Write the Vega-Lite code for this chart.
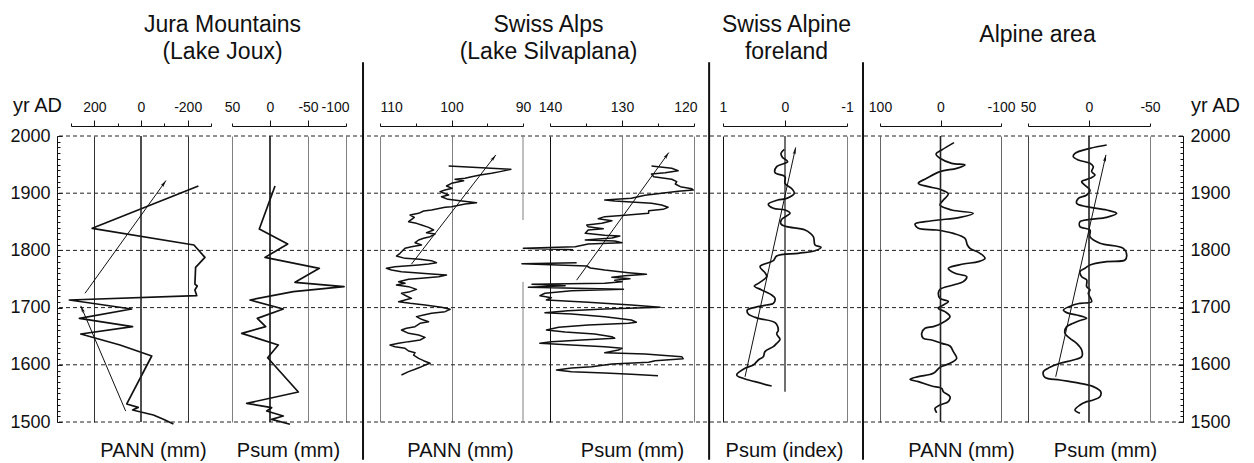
{
  "$schema": "https://vega.github.io/schema/vega-lite/v6.json",
  "width": 1126,
  "height": 286,
  "autosize": {"type": "none"},
  "padding": {"left": 57, "top": 136, "right": 71, "bottom": 41},
  "background": "white",
  "config": {
    "view": {"stroke": null},
    "font": "Liberation Sans",
    "mark": {"invalid": "break-paths-show-domains"},
    "axis": {
      "labelFont": "Liberation Sans",
      "titleFont": "Liberation Sans",
      "labelColor": "#111",
      "titleColor": "#111",
      "domainColor": "#111",
      "tickColor": "#111",
      "titleFontWeight": "normal",
      "labelFontWeight": "normal"
    }
  },
  "datasets": {
    "centuries": [{"year": 1500}, {"year": 1600}, {"year": 1700}, {"year": 1800}, {"year": 1900}, {"year": 2000}],
    "jura_pann": [
      {"year": 1912.6, "v": -246}, {"year": 1838.6, "v": 209}, {"year": 1809.4, "v": -227}, {"year": 1787.8, "v": -274},
      {"year": 1770.3, "v": -234}, {"year": 1741, "v": -231}, {"year": 1737.8, "v": -241}, {"year": 1730.8, "v": -231},
      {"year": 1720.9, "v": -239}, {"year": 1713.3, "v": 307}, {"year": 1697.6, "v": 40}, {"year": 1681.2, "v": 264},
      {"year": 1666.7, "v": 36}, {"year": 1653.8, "v": 258}, {"year": 1634.6, "v": 90}, {"year": 1615.4, "v": -46},
      {"year": 1531.5, "v": 61}, {"year": 1525.6, "v": 12}, {"year": 1521, "v": 36}, {"year": 1512.2, "v": -53},
      {"year": 1504.7, "v": -96}, {"year": 1496.5, "v": -139}
    ],
    "jura_psum": [
      {"year": 1912.6, "v": -6.6}, {"year": 1837.4, "v": 14.1}, {"year": 1811.2, "v": -23.3}, {"year": 1787.8, "v": 6.6},
      {"year": 1768.7, "v": -64.9}, {"year": 1744.2, "v": -32.9}, {"year": 1736.6, "v": -97.4}, {"year": 1727.8, "v": -30.7},
      {"year": 1713.3, "v": 26.3}, {"year": 1697.6, "v": -17.5}, {"year": 1681.2, "v": 16.7}, {"year": 1666.7, "v": 5.7},
      {"year": 1655, "v": 37.2}, {"year": 1634.6, "v": -10.9}, {"year": 1612.4, "v": 3.1}, {"year": 1552.4, "v": -37.3},
      {"year": 1532.6, "v": 30.7}, {"year": 1525, "v": -2.2}, {"year": 1519.2, "v": 4.4}, {"year": 1510.5, "v": -17.5},
      {"year": 1504.7, "v": -2.2}, {"year": 1496, "v": -26.3}
    ],
    "silva_pann": [
      {"year": 1947.6, "v": 100.4}, {"year": 1941.7, "v": 91.7}, {"year": 1937.7, "v": 93.2}, {"year": 1934.7, "v": 94.4},
      {"year": 1931.8, "v": 96.0}, {"year": 1928.9, "v": 97.2}, {"year": 1926.0, "v": 98.1}, {"year": 1924.3, "v": 99.5},
      {"year": 1921.9, "v": 98.3}, {"year": 1917.3, "v": 100.0}, {"year": 1912.6, "v": 100.7}, {"year": 1908.5, "v": 99.9},
      {"year": 1905.6, "v": 100.9}, {"year": 1902.7, "v": 101.6}, {"year": 1896.9, "v": 100.4}, {"year": 1893.9, "v": 101.4},
      {"year": 1889.3, "v": 100.5}, {"year": 1887.0, "v": 98.8}, {"year": 1883.5, "v": 96.5}, {"year": 1881.1, "v": 98.1},
      {"year": 1876.5, "v": 100.0}, {"year": 1875.3, "v": 100.9}, {"year": 1870.6, "v": 102.8}, {"year": 1868.9, "v": 103.9},
      {"year": 1864.8, "v": 104.6}, {"year": 1861.9, "v": 105.8}, {"year": 1857.8, "v": 105.2}, {"year": 1850.2, "v": 106.0},
      {"year": 1847.3, "v": 104.9}, {"year": 1844.4, "v": 104.2}, {"year": 1840.3, "v": 103.2}, {"year": 1835.7, "v": 102.5},
      {"year": 1831.0, "v": 103.5}, {"year": 1828.7, "v": 102.3}, {"year": 1824.0, "v": 103.0}, {"year": 1821.1, "v": 103.9},
      {"year": 1818.2, "v": 104.6}, {"year": 1813.5, "v": 105.1}, {"year": 1809.5, "v": 104.2}, {"year": 1806.5, "v": 105.6},
      {"year": 1803.6, "v": 106.5}, {"year": 1794.9, "v": 107.2}, {"year": 1790.2, "v": 107.7}, {"year": 1786.1, "v": 106.5},
      {"year": 1784.4, "v": 104.4}, {"year": 1782.1, "v": 102.8}, {"year": 1778.6, "v": 102.1}, {"year": 1776.2, "v": 103.2},
      {"year": 1774.5, "v": 104.6}, {"year": 1772.7, "v": 106.5}, {"year": 1771.6, "v": 107.9}, {"year": 1768.7, "v": 109.1},
      {"year": 1765.7, "v": 108.4}, {"year": 1762.8, "v": 107.0}, {"year": 1761.1, "v": 105.1}, {"year": 1758.8, "v": 102.8},
      {"year": 1757.0, "v": 100.7}, {"year": 1754.1, "v": 101.8}, {"year": 1751.2, "v": 104.2}, {"year": 1749.4, "v": 106.0},
      {"year": 1745.3, "v": 107.4}, {"year": 1742.4, "v": 106.5}, {"year": 1739.5, "v": 107.7}, {"year": 1736.6, "v": 106.0},
      {"year": 1731.9, "v": 104.9}, {"year": 1727.9, "v": 105.8}, {"year": 1725.0, "v": 107.0}, {"year": 1720.3, "v": 106.3},
      {"year": 1716.2, "v": 105.6}, {"year": 1713.3, "v": 106.5}, {"year": 1710.4, "v": 107.4}, {"year": 1707.5, "v": 105.8},
      {"year": 1704.6, "v": 103.7}, {"year": 1700.5, "v": 101.4}, {"year": 1697.0, "v": 100.2}, {"year": 1692.9, "v": 100.9},
      {"year": 1690.0, "v": 102.8}, {"year": 1687.1, "v": 103.9}, {"year": 1684.2, "v": 104.9}, {"year": 1679.5, "v": 104.2},
      {"year": 1675.4, "v": 103.2}, {"year": 1672.5, "v": 104.4}, {"year": 1666.7, "v": 105.1}, {"year": 1663.8, "v": 106.3},
      {"year": 1660.8, "v": 107.0}, {"year": 1655.0, "v": 106.0}, {"year": 1652.1, "v": 104.6}, {"year": 1648.0, "v": 103.7},
      {"year": 1643.4, "v": 104.4}, {"year": 1640.5, "v": 106.0}, {"year": 1637.5, "v": 107.4}, {"year": 1634.6, "v": 108.6},
      {"year": 1631.7, "v": 107.9}, {"year": 1628.8, "v": 106.5}, {"year": 1624.1, "v": 106.0}, {"year": 1621.2, "v": 105.1},
      {"year": 1617.1, "v": 105.3}, {"year": 1611.3, "v": 104.6}, {"year": 1607.2, "v": 103.9}, {"year": 1602.6, "v": 103.0},
      {"year": 1599.7, "v": 103.7}, {"year": 1595.6, "v": 104.4}, {"year": 1592.1, "v": 105.1}, {"year": 1588.0, "v": 106.0},
      {"year": 1582.2, "v": 107.0}
    ],
    "silva_psum": [
      {"year": 1947.6, "v": 125.9}, {"year": 1943.5, "v": 123.1}, {"year": 1939.4, "v": 122.2}, {"year": 1935.9, "v": 124.0},
      {"year": 1933.6, "v": 125.9}, {"year": 1928.9, "v": 125.6}, {"year": 1924.3, "v": 123.1}, {"year": 1920.2, "v": 122.4},
      {"year": 1916.1, "v": 122.6}, {"year": 1911.4, "v": 121.9}, {"year": 1907.9, "v": 120.3}, {"year": 1905.6, "v": 120.1},
      {"year": 1903.3, "v": 122.2}, {"year": 1899.8, "v": 124.5}, {"year": 1896.3, "v": 126.8}, {"year": 1891.0, "v": 128.7},
      {"year": 1888.1, "v": 132.4}, {"year": 1886.4, "v": 131.0}, {"year": 1882.3, "v": 125.9}, {"year": 1879.4, "v": 124.5},
      {"year": 1875.3, "v": 123.6}, {"year": 1871.8, "v": 124.3}, {"year": 1869.5, "v": 126.3}, {"year": 1864.8, "v": 126.3},
      {"year": 1861.3, "v": 129.6}, {"year": 1859.0, "v": 132.4}, {"year": 1855.5, "v": 133.3}, {"year": 1852.0, "v": 131.4},
      {"year": 1847.3, "v": 132.8}, {"year": 1844.4, "v": 134.9}, {"year": 1841.5, "v": 134.7}, {"year": 1838.0, "v": 132.6},
      {"year": 1835.7, "v": 134.7}, {"year": 1829.8, "v": 135.1}, {"year": 1826.4, "v": 132.4}, {"year": 1825.2, "v": 130.3},
      {"year": 1821.7, "v": 131.4}, {"year": 1818.2, "v": 135.1}, {"year": 1816.4, "v": 131.0}, {"year": 1813.5, "v": 130.0},
      {"year": 1811.2, "v": 134.7}, {"year": 1806.5, "v": 136.5}, {"year": 1803.6, "v": 143.7}, {"year": 1801.3, "v": 136.8},
      {"year": 1790.0, "v": null},
      {"year": 1778.6, "v": 136.3}, {"year": 1776.8, "v": 143.9}, {"year": 1772.7, "v": 134.9}, {"year": 1769.2, "v": 134.4},
      {"year": 1765.7, "v": 132.4}, {"year": 1761.1, "v": 129.1}, {"year": 1758.2, "v": 126.6}, {"year": 1755.8, "v": 129.6},
      {"year": 1752.9, "v": 131.4}, {"year": 1750.6, "v": 128.9}, {"year": 1747.7, "v": 131.0}, {"year": 1745.3, "v": 130.0},
      {"year": 1742.4, "v": 132.4}, {"year": 1740.7, "v": 142.5}, {"year": 1738.4, "v": 137.9}, {"year": 1735.4, "v": 143.0},
      {"year": 1731.9, "v": 129.8}, {"year": 1729.6, "v": 137.0}, {"year": 1725.0, "v": 140.7}, {"year": 1720.9, "v": 141.4},
      {"year": 1717.4, "v": 139.8}, {"year": 1713.3, "v": 140.5}, {"year": 1709.2, "v": 134.7}, {"year": 1704.6, "v": 128.7},
      {"year": 1700.5, "v": 124.7}, {"year": 1697.6, "v": 132.4}, {"year": 1694.7, "v": 137.5}, {"year": 1691.2, "v": 140.7},
      {"year": 1688.8, "v": 137.0}, {"year": 1684.2, "v": 132.4}, {"year": 1678.3, "v": 128.7}, {"year": 1674.3, "v": 128.0},
      {"year": 1672.5, "v": 129.1}, {"year": 1669.6, "v": 134.7}, {"year": 1665.5, "v": 138.8}, {"year": 1660.8, "v": 140.5},
      {"year": 1657.4, "v": 137.9}, {"year": 1653.9, "v": 133.8}, {"year": 1649.2, "v": 131.4}, {"year": 1646.3, "v": 131.0},
      {"year": 1643.4, "v": 135.6}, {"year": 1640.5, "v": 139.8}, {"year": 1637.5, "v": 141.4}, {"year": 1634.6, "v": 137.0},
      {"year": 1631.7, "v": 132.4}, {"year": 1628.8, "v": 130.0}, {"year": 1625.9, "v": 130.5}, {"year": 1621.2, "v": 132.4},
      {"year": 1618.9, "v": 126.8}, {"year": 1614.2, "v": 121.7}, {"year": 1610.7, "v": 121.5}, {"year": 1607.2, "v": 125.4},
      {"year": 1604.3, "v": 126.3}, {"year": 1601.4, "v": 131.4}, {"year": 1596.7, "v": 134.2}, {"year": 1594.4, "v": 137.0},
      {"year": 1590.9, "v": 139.1}, {"year": 1588.0, "v": 137.0}, {"year": 1585.7, "v": 132.4}, {"year": 1583.4, "v": 128.7},
      {"year": 1581.0, "v": 125.0}
    ],
    "foreland_psum": [
      {"year": 1976.7, "v": 0.011}, {"year": 1969.7, "v": 0.065}, {"year": 1962.7, "v": 0.043}, {"year": 1955.1, "v": -0.043},
      {"year": 1946.4, "v": 0.134}, {"year": 1935.9, "v": 0.161}, {"year": 1928.9, "v": 0.0}, {"year": 1917.3, "v": 0.0},
      {"year": 1906.8, "v": -0.118}, {"year": 1899.8, "v": -0.151}, {"year": 1891.0, "v": -0.027}, {"year": 1888.1, "v": 0.118},
      {"year": 1881.1, "v": 0.269}, {"year": 1873.6, "v": 0.188}, {"year": 1870.6, "v": 0.0}, {"year": 1864.8, "v": -0.081},
      {"year": 1854.3, "v": 0.054}, {"year": 1846.2, "v": 0.065}, {"year": 1841.5, "v": -0.027}, {"year": 1835.7, "v": -0.323},
      {"year": 1824.0, "v": -0.457}, {"year": 1809.5, "v": -0.484}, {"year": 1805.4, "v": -0.581}, {"year": 1799.5, "v": -0.484},
      {"year": 1794.9, "v": -0.215}, {"year": 1790.2, "v": 0.134}, {"year": 1782.1, "v": 0.188}, {"year": 1771.6, "v": 0.403},
      {"year": 1761.1, "v": 0.323}, {"year": 1754.1, "v": 0.296}, {"year": 1742.4, "v": 0.43}, {"year": 1737.8, "v": 0.495},
      {"year": 1730.8, "v": 0.376}, {"year": 1722.0, "v": 0.215}, {"year": 1716.2, "v": 0.161}, {"year": 1707.5, "v": 0.188},
      {"year": 1704.6, "v": 0.296}, {"year": 1700.5, "v": 0.484}, {"year": 1695.8, "v": 0.607}, {"year": 1688.8, "v": 0.591},
      {"year": 1681.2, "v": 0.43}, {"year": 1673.7, "v": 0.161}, {"year": 1660.8, "v": 0.108}, {"year": 1653.9, "v": 0.134},
      {"year": 1644.5, "v": 0.081}, {"year": 1637.5, "v": 0.134}, {"year": 1631.7, "v": 0.188}, {"year": 1623.0, "v": 0.323},
      {"year": 1614.2, "v": 0.35}, {"year": 1608.4, "v": 0.43}, {"year": 1599.7, "v": 0.511}, {"year": 1593.8, "v": 0.645},
      {"year": 1582.2, "v": 0.78}, {"year": 1578.1, "v": 0.726}, {"year": 1570.5, "v": 0.484}, {"year": 1562.9, "v": 0.215}
    ],
    "alpine_pann": [
      {"year": 1988.4, "v": -22.3}, {"year": 1975.5, "v": -1.9}, {"year": 1968.5, "v": 7.4}, {"year": 1961.0, "v": 0.8},
      {"year": 1952.2, "v": -18.5}, {"year": 1949.3, "v": -40.5}, {"year": 1943.5, "v": -26.7}, {"year": 1937.7, "v": 0.8},
      {"year": 1926.0, "v": 22.9}, {"year": 1917.3, "v": 36.6}, {"year": 1911.4, "v": 20.1}, {"year": 1906.8, "v": 0.8},
      {"year": 1898.6, "v": -12.9}, {"year": 1888.1, "v": -4.7}, {"year": 1879.4, "v": 0.8}, {"year": 1870.6, "v": -18.5},
      {"year": 1864.8, "v": -54.3}, {"year": 1857.8, "v": -32.2}, {"year": 1853.2, "v": 3.6}, {"year": 1850.2, "v": 25.6},
      {"year": 1846.2, "v": 42.1}, {"year": 1838.6, "v": 36.6}, {"year": 1835.7, "v": 6.3}, {"year": 1829.8, "v": -21.2},
      {"year": 1821.1, "v": -40.5}, {"year": 1809.5, "v": -44.4}, {"year": 1803.6, "v": -48.8}, {"year": 1794.9, "v": -65.3},
      {"year": 1786.1, "v": -73.6}, {"year": 1780.3, "v": -62.5}, {"year": 1776.2, "v": -37.7}, {"year": 1768.7, "v": -12.9},
      {"year": 1759.9, "v": -24.0}, {"year": 1754.1, "v": -43.3}, {"year": 1745.3, "v": -37.7}, {"year": 1739.5, "v": -21.2},
      {"year": 1731.9, "v": 0.8}, {"year": 1725.0, "v": 3.6}, {"year": 1716.2, "v": 0.8}, {"year": 1710.4, "v": -12.9},
      {"year": 1704.6, "v": -4.7}, {"year": 1698.7, "v": 3.6}, {"year": 1692.9, "v": -7.4}, {"year": 1684.2, "v": -15.7},
      {"year": 1672.5, "v": -1.9}, {"year": 1666.7, "v": 11.8}, {"year": 1663.8, "v": 25.6}, {"year": 1655.0, "v": 31.1},
      {"year": 1646.3, "v": 28.4}, {"year": 1643.4, "v": 14.6}, {"year": 1637.5, "v": -1.9}, {"year": 1632.9, "v": -15.7},
      {"year": 1623.0, "v": -21.2}, {"year": 1611.3, "v": -26.7}, {"year": 1602.6, "v": -15.7}, {"year": 1595.6, "v": 0.8},
      {"year": 1585.1, "v": 11.8}, {"year": 1579.3, "v": 36.6}, {"year": 1574.6, "v": 50.4}, {"year": 1570.5, "v": 36.6},
      {"year": 1562.9, "v": 14.6}, {"year": 1558.9, "v": -1.9}, {"year": 1553.0, "v": -4.7}, {"year": 1544.3, "v": -15.7},
      {"year": 1535.6, "v": -12.9}, {"year": 1529.7, "v": 0.8}, {"year": 1523.9, "v": 9.1}, {"year": 1516.3, "v": 6.3}
    ],
    "alpine_psum": [
      {"year": 1984.3, "v": -14.5}, {"year": 1978.4, "v": -0.8}, {"year": 1969.7, "v": 11.5}, {"year": 1963.9, "v": 12.9},
      {"year": 1958.1, "v": 8.7}, {"year": 1952.2, "v": -0.8}, {"year": 1946.4, "v": -3.5}, {"year": 1937.7, "v": -2.2},
      {"year": 1931.8, "v": -4.9}, {"year": 1926.0, "v": -0.8}, {"year": 1920.2, "v": 6.0}, {"year": 1911.4, "v": 1.9},
      {"year": 1905.6, "v": -0.8}, {"year": 1896.9, "v": 1.9}, {"year": 1891.0, "v": 8.7}, {"year": 1882.3, "v": 10.1},
      {"year": 1876.5, "v": 1.9}, {"year": 1870.6, "v": -14.5}, {"year": 1864.8, "v": -22.7}, {"year": 1857.8, "v": -14.5},
      {"year": 1854.3, "v": -0.8}, {"year": 1850.2, "v": 7.4}, {"year": 1841.5, "v": 7.4}, {"year": 1835.7, "v": -0.8},
      {"year": 1824.0, "v": -0.8}, {"year": 1812.4, "v": -9.0}, {"year": 1803.6, "v": -28.1}, {"year": 1792.0, "v": -30.9},
      {"year": 1783.2, "v": -29.5}, {"year": 1780.3, "v": -14.5}, {"year": 1774.5, "v": -0.8}, {"year": 1768.7, "v": 3.3},
      {"year": 1762.8, "v": 7.4}, {"year": 1754.1, "v": 6.0}, {"year": 1748.3, "v": 1.9}, {"year": 1736.6, "v": 1.9},
      {"year": 1730.8, "v": -0.8}, {"year": 1725.0, "v": 0.6}, {"year": 1710.4, "v": -2.2}, {"year": 1707.5, "v": 7.4},
      {"year": 1704.6, "v": 12.9}, {"year": 1695.8, "v": 21.0}, {"year": 1691.2, "v": 18.3}, {"year": 1687.1, "v": 10.1},
      {"year": 1681.2, "v": 1.9}, {"year": 1678.3, "v": 6.0}, {"year": 1675.4, "v": 10.1}, {"year": 1672.5, "v": 12.9},
      {"year": 1666.7, "v": 18.3}, {"year": 1655.0, "v": 19.7}, {"year": 1646.3, "v": 15.6}, {"year": 1637.5, "v": 10.1},
      {"year": 1625.9, "v": 6.0}, {"year": 1614.2, "v": 6.0}, {"year": 1608.4, "v": 12.9}, {"year": 1602.6, "v": 23.8},
      {"year": 1595.6, "v": 32.0}, {"year": 1588.0, "v": 37.4}, {"year": 1578.1, "v": 36.1}, {"year": 1573.4, "v": 23.8},
      {"year": 1567.6, "v": 7.4}, {"year": 1561.8, "v": -3.5}, {"year": 1553.0, "v": -9.6}, {"year": 1544.3, "v": -9.0},
      {"year": 1538.5, "v": -3.5}, {"year": 1535.6, "v": 1.9}, {"year": 1529.7, "v": 7.4}, {"year": 1521.0, "v": 11.5},
      {"year": 1515.2, "v": 7.4}
    ],
    "trends": [
      {"panel": "jura_pann", "id": 1, "v_start": 240, "yr_start": 1725, "v_end": -107, "yr_end": 1922},
      {"panel": "jura_pann", "id": 2, "v_start": 65.6, "yr_start": 1519, "v_end": 258, "yr_end": 1703},
      {"panel": "silva_pann", "id": 3, "v_start": 105.6, "yr_start": 1776, "v_end": 93.8, "yr_end": 1967},
      {"panel": "silva_psum", "id": 4, "v_start": 136.3, "yr_start": 1748, "v_end": 123.5, "yr_end": 1971},
      {"panel": "foreland_psum", "id": 5, "v_start": 0.645, "yr_start": 1579, "v_end": -0.172, "yr_end": 1980},
      {"panel": "alpine_psum", "id": 6, "v_start": 27.3, "yr_start": 1579, "v_end": -13.9, "yr_end": 1967}
    ]
  },
  "layer": [
    {
      "data": {"name": "centuries"},
      "mark": {"type": "rule", "color": "#222", "strokeWidth": 1, "strokeDash": [4, 3]},
      "encoding": {
        "y": {
          "field": "year", "type": "quantitative",
          "scale": {"domain": [1500, 2000], "nice": false, "zero": false},
          "axis": {
            "orient": "left", "values": [1500, 1600, 1700, 1800, 1900, 2000], "format": "d",
            "tickSize": -5, "labelPadding": 12, "labelFontSize": 18, "grid": false, "domain": true,
            "title": "yr AD", "titleFontSize": 20, "titleAngle": 0, "titleAlign": "center",
            "titleBaseline": "alphabetic", "titleX": -20, "titleY": -25
          }
        }
      }
    },
    {
      "data": {"name": "centuries"},
      "mark": {"type": "rule", "opacity": 0},
      "encoding": {
        "y": {
          "field": "year", "type": "quantitative",
          "scale": {"domain": [1500, 2000], "nice": false, "zero": false},
          "axis": {
            "orient": "left",
            "values": [1500,1510,1520,1530,1540,1550,1560,1570,1580,1590,1600,1610,1620,1630,1640,1650,1660,1670,1680,1690,1700,1710,1720,1730,1740,1750,1760,1770,1780,1790,1800,1810,1820,1830,1840,1850,1860,1870,1880,1890,1900,1910,1920,1930,1940,1950,1960,1970,1980,1990,2000],
            "labels": false, "tickSize": -3, "domain": false, "grid": false, "title": null
          }
        }
      }
    },
    {
      "data": {"name": "centuries"},
      "mark": {"type": "rule", "opacity": 0},
      "encoding": {
        "y": {
          "field": "year", "type": "quantitative",
          "scale": {"domain": [1500, 2000], "nice": false, "zero": false},
          "axis": {
            "orient": "right", "values": [1500, 1600, 1700, 1800, 1900, 2000], "format": "d",
            "tickSize": -5, "labelPadding": 12, "labelFontSize": 18, "grid": false, "domain": true,
            "title": "yr AD", "titleFontSize": 20, "titleAngle": 0, "titleAlign": "center",
            "titleBaseline": "alphabetic", "titleX": 32, "titleY": -25
          }
        }
      }
    },
    {
      "data": {"name": "centuries"},
      "mark": {"type": "rule", "opacity": 0},
      "encoding": {
        "y": {
          "field": "year", "type": "quantitative",
          "scale": {"domain": [1500, 2000], "nice": false, "zero": false},
          "axis": {
            "orient": "right",
            "values": [1500,1510,1520,1530,1540,1550,1560,1570,1580,1590,1600,1610,1620,1630,1640,1650,1660,1670,1680,1690,1700,1710,1720,1730,1740,1750,1760,1770,1780,1790,1800,1810,1820,1830,1840,1850,1860,1870,1880,1890,1900,1910,1920,1930,1940,1950,1960,1970,1980,1990,2000],
            "labels": false, "tickSize": -3, "domain": false, "grid": false, "title": null
          }
        }
      }
    },

    {
      "data": {"name": "jura_pann"},
      "mark": {"type": "line", "color": "#111", "strokeWidth": 1.7, "strokeJoin": "round"},
      "encoding": {
        "x": {
          "field": "v", "type": "quantitative",
          "scale": {"domain": [300, -300], "range": [14, 154], "nice": false, "zero": false},
          "axis": {
            "orient": "top", "offset": 10, "values": [300, 200, 100, 0, -100, -200, -300],
            "labelExpr": "abs(datum.value) === 300 || abs(datum.value) === 100 ? '' : toString(datum.value)",
            "labelFontSize": 14, "labelOverlap": false, "labelFlush": false, "labelBound": false,
            "tickSize": {"condition": {"test": "abs(datum.value) === 300 || abs(datum.value) === 100", "value": 3}, "value": 6},
            "labelPadding": {"condition": {"test": "abs(datum.value) === 300 || abs(datum.value) === 100", "value": 9}, "value": 6},
            "grid": true, "gridColor": "#333", "gridWidth": 1,
            "gridOpacity": {"condition": {"test": "abs(datum.value) === 200", "value": 1}, "value": 0},
            "title": ["Jura Mountains", "(Lake Joux)"], "titleFontSize": 23, "titleAlign": "center",
            "titleBaseline": "alphabetic", "titleLineHeight": 27, "titleAngle": 0, "titleX": 165, "titleY": -95
          }
        },
        "y": {"field": "year", "type": "quantitative", "scale": {"domain": [1500, 2000], "nice": false, "zero": false}, "axis": null},
        "order": {"field": "year", "type": "quantitative"}
      }
    },
    {
      "data": {"values": [{"v": 0}]},
      "mark": {"type": "rule", "color": "#222", "strokeWidth": 1.6},
      "encoding": {
        "x": {
          "field": "v", "type": "quantitative",
          "scale": {"domain": [300, -300], "range": [14, 154], "nice": false, "zero": false},
          "axis": {"orient": "bottom", "domain": false, "ticks": false, "labels": false, "grid": false,
            "title": "PANN (mm)", "titleFontSize": 20, "titleAlign": "center", "titleBaseline": "alphabetic",
            "titleAngle": 0, "titleX": 96, "titleY": 34}
        }
      }
    },
    {
      "data": {"name": "trends"},
      "transform": [{"filter": "datum.panel === 'jura_pann'"}],
      "mark": {"type": "rule", "color": "#111", "strokeWidth": 1},
      "encoding": {
        "x": {"field": "v_start", "type": "quantitative", "scale": {"domain": [300, -300], "range": [14, 154], "nice": false, "zero": false}, "axis": null},
        "x2": {"field": "v_end"},
        "y": {"field": "yr_start", "type": "quantitative", "scale": {"domain": [1500, 2000], "nice": false, "zero": false}, "axis": null},
        "y2": {"field": "yr_end"}
      }
    },
    {
      "data": {"name": "trends"},
      "transform": [{"filter": "datum.id === 1"}],
      "mark": {"type": "point", "shape": "M0,0L0.5,2.2L0,1.7L-0.5,2.2Z", "filled": true, "color": "#111", "opacity": 1, "size": 40, "angle": 35.7},
      "encoding": {
        "x": {"field": "v_end", "type": "quantitative", "scale": {"domain": [300, -300], "range": [14, 154], "nice": false, "zero": false}, "axis": null},
        "y": {"field": "yr_end", "type": "quantitative", "scale": {"domain": [1500, 2000], "nice": false, "zero": false}, "axis": null}
      }
    },
    {
      "data": {"name": "trends"},
      "transform": [{"filter": "datum.id === 2"}],
      "mark": {"type": "point", "shape": "M0,0L0.5,2.2L0,1.7L-0.5,2.2Z", "filled": true, "color": "#111", "opacity": 1, "size": 40, "angle": -23.2},
      "encoding": {
        "x": {"field": "v_end", "type": "quantitative", "scale": {"domain": [300, -300], "range": [14, 154], "nice": false, "zero": false}, "axis": null},
        "y": {"field": "yr_end", "type": "quantitative", "scale": {"domain": [1500, 2000], "nice": false, "zero": false}, "axis": null}
      }
    },

    {
      "data": {"name": "jura_psum"},
      "mark": {"type": "line", "color": "#111", "strokeWidth": 1.7, "strokeJoin": "round"},
      "encoding": {
        "x": {
          "field": "v", "type": "quantitative",
          "scale": {"domain": [50, -100], "range": [175, 289], "nice": false, "zero": false},
          "axis": {
            "orient": "top", "offset": 10, "values": [50, 0, -50, -100],
            "labelExpr": "toString(datum.value)",
            "labelFontSize": 14, "labelOverlap": false, "labelFlush": false, "labelBound": false,
            "labelAlign": {"condition": {"test": "datum.value === -100", "value": "right"}, "value": "center"},
            "labelOffset": {"condition": {"test": "datum.value === -100", "value": 3}, "value": 0},
            "tickSize": {"condition": {"test": "datum.value === 0 || datum.value === -50", "value": 6}, "value": 3},
            "labelPadding": {"condition": {"test": "datum.value === 0 || datum.value === -50", "value": 6}, "value": 9},
            "grid": true, "gridColor": "#808080", "gridWidth": 1,
            "gridOpacity": {"condition": {"test": "datum.value === 0", "value": 0}, "value": 1},
            "title": null
          }
        },
        "y": {"field": "year", "type": "quantitative", "scale": {"domain": [1500, 2000], "nice": false, "zero": false}, "axis": null},
        "order": {"field": "year", "type": "quantitative"}
      }
    },
    {
      "data": {"values": [{"v": 0}]},
      "mark": {"type": "rule", "color": "#111", "strokeWidth": 1.6},
      "encoding": {
        "x": {
          "field": "v", "type": "quantitative",
          "scale": {"domain": [50, -100], "range": [175, 289], "nice": false, "zero": false},
          "axis": {"orient": "bottom", "domain": false, "ticks": false, "labels": false, "grid": false,
            "title": "Psum (mm)", "titleFontSize": 20, "titleAlign": "center", "titleBaseline": "alphabetic",
            "titleAngle": 0, "titleX": 231, "titleY": 34}
        }
      }
    },
    {
      "data": {"values": [{}]},
      "mark": {"type": "rule", "color": "#111", "strokeWidth": 2},
      "encoding": {
        "x": {"datum": -122.4, "type": "quantitative", "scale": {"domain": [50, -100], "range": [175, 289], "nice": false, "zero": false}, "axis": null},
        "y": {"datum": 2129, "type": "quantitative", "scale": {"domain": [1500, 2000], "nice": false, "zero": false}, "axis": null},
        "y2": {"datum": 1434}
      }
    },

    {
      "data": {"name": "silva_pann"},
      "mark": {"type": "line", "color": "#111", "strokeWidth": 1.5, "strokeJoin": "round"},
      "encoding": {
        "x": {
          "field": "v", "type": "quantitative",
          "scale": {"domain": [110, 90], "range": [323, 466], "nice": false, "zero": false},
          "axis": {
            "orient": "top", "offset": 10, "values": [110, 105, 100, 95, 90],
            "labelExpr": "datum.value % 10 === 0 ? toString(datum.value) : ''",
            "labelFontSize": 14, "labelOverlap": false, "labelFlush": false, "labelBound": false,
            "labelAlign": {"condition": {"test": "datum.value === 110", "value": "left"}, "value": "center"},
            "tickSize": {"condition": {"test": "datum.value === 100", "value": 6}, "value": 3},
            "labelPadding": {"condition": {"test": "datum.value === 100", "value": 6}, "value": 9},
            "grid": true, "gridColor": "#808080", "gridWidth": 1,
            "gridOpacity": {"condition": {"test": "datum.value === 110 || datum.value === 100", "value": 1}, "value": 0},
            "title": ["Swiss Alps", "(Lake Silvaplana)"], "titleFontSize": 23, "titleAlign": "center",
            "titleBaseline": "alphabetic", "titleLineHeight": 27, "titleAngle": 0, "titleX": 491, "titleY": -95
          }
        },
        "y": {"field": "year", "type": "quantitative", "scale": {"domain": [1500, 2000], "nice": false, "zero": false}, "axis": null},
        "order": {"field": "year", "type": "quantitative"}
      }
    },
    {
      "data": {"values": [{"v": 90, "from": 2000, "to": 1853}, {"v": 90, "from": 1745, "to": 1500}]},
      "mark": {"type": "rule", "color": "#808080", "strokeWidth": 1},
      "encoding": {
        "x": {
          "field": "v", "type": "quantitative",
          "scale": {"domain": [110, 90], "range": [323, 466], "nice": false, "zero": false},
          "axis": {"orient": "bottom", "domain": false, "ticks": false, "labels": false, "grid": false,
            "title": "PANN (mm)", "titleFontSize": 20, "titleAlign": "center", "titleBaseline": "alphabetic",
            "titleAngle": 0, "titleX": 403, "titleY": 34}
        },
        "y": {"field": "from", "type": "quantitative", "scale": {"domain": [1500, 2000], "nice": false, "zero": false}, "axis": null},
        "y2": {"field": "to"}
      }
    },
    {
      "data": {"name": "trends"},
      "transform": [{"filter": "datum.id === 3"}],
      "mark": {"type": "rule", "color": "#111", "strokeWidth": 1},
      "encoding": {
        "x": {"field": "v_start", "type": "quantitative", "scale": {"domain": [110, 90], "range": [323, 466], "nice": false, "zero": false}, "axis": null},
        "x2": {"field": "v_end"},
        "y": {"field": "yr_start", "type": "quantitative", "scale": {"domain": [1500, 2000], "nice": false, "zero": false}, "axis": null},
        "y2": {"field": "yr_end"}
      }
    },
    {
      "data": {"name": "trends"},
      "transform": [{"filter": "datum.id === 3"}],
      "mark": {"type": "point", "shape": "M0,0L0.5,2.2L0,1.7L-0.5,2.2Z", "filled": true, "color": "#111", "opacity": 1, "size": 40, "angle": 37.6},
      "encoding": {
        "x": {"field": "v_end", "type": "quantitative", "scale": {"domain": [110, 90], "range": [323, 466], "nice": false, "zero": false}, "axis": null},
        "y": {"field": "yr_end", "type": "quantitative", "scale": {"domain": [1500, 2000], "nice": false, "zero": false}, "axis": null}
      }
    },

    {
      "data": {"name": "silva_psum"},
      "mark": {"type": "line", "color": "#111", "strokeWidth": 1.5, "strokeJoin": "round"},
      "encoding": {
        "x": {
          "field": "v", "type": "quantitative",
          "scale": {"domain": [140, 120], "range": [493, 637], "nice": false, "zero": false},
          "axis": {
            "orient": "top", "offset": 10, "values": [140, 135, 130, 125, 120],
            "labelExpr": "datum.value % 10 === 0 ? toString(datum.value) : ''",
            "labelFontSize": 14, "labelOverlap": false, "labelFlush": false, "labelBound": false,
            "labelAlign": {"condition": {"test": "datum.value === 120", "value": "right"}, "value": "center"},
            "labelOffset": {"condition": {"test": "datum.value === 120", "value": 3}, "value": 0},
            "tickSize": {"condition": {"test": "datum.value === 130", "value": 6}, "value": 3},
            "labelPadding": {"condition": {"test": "datum.value === 130", "value": 6}, "value": 9},
            "grid": true, "gridWidth": 1,
            "gridColor": {"condition": {"test": "datum.value === 140", "value": "#111"}, "value": "#808080"},
            "gridOpacity": {"condition": {"test": "datum.value % 10 === 0", "value": 1}, "value": 0},
            "title": null
          }
        },
        "y": {"field": "year", "type": "quantitative", "scale": {"domain": [1500, 2000], "nice": false, "zero": false}, "axis": null},
        "order": {"field": "year", "type": "quantitative"}
      }
    },
    {
      "data": {"name": "trends"},
      "transform": [{"filter": "datum.id === 4"}],
      "mark": {"type": "rule", "color": "#111", "strokeWidth": 1},
      "encoding": {
        "x": {
          "field": "v_start", "type": "quantitative",
          "scale": {"domain": [140, 120], "range": [493, 637], "nice": false, "zero": false},
          "axis": {"orient": "bottom", "domain": false, "ticks": false, "labels": false, "grid": false,
            "title": "Psum (mm)", "titleFontSize": 20, "titleAlign": "center", "titleBaseline": "alphabetic",
            "titleAngle": 0, "titleX": 575, "titleY": 34}
        },
        "x2": {"field": "v_end"},
        "y": {"field": "yr_start", "type": "quantitative", "scale": {"domain": [1500, 2000], "nice": false, "zero": false}, "axis": null},
        "y2": {"field": "yr_end"}
      }
    },
    {
      "data": {"name": "trends"},
      "transform": [{"filter": "datum.id === 4"}],
      "mark": {"type": "point", "shape": "M0,0L0.5,2.2L0,1.7L-0.5,2.2Z", "filled": true, "color": "#111", "opacity": 1, "size": 40, "angle": 35.9},
      "encoding": {
        "x": {"field": "v_end", "type": "quantitative", "scale": {"domain": [140, 120], "range": [493, 637], "nice": false, "zero": false}, "axis": null},
        "y": {"field": "yr_end", "type": "quantitative", "scale": {"domain": [1500, 2000], "nice": false, "zero": false}, "axis": null}
      }
    },
    {
      "data": {"values": [{}]},
      "mark": {"type": "rule", "color": "#111", "strokeWidth": 2},
      "encoding": {
        "x": {"datum": 117.9, "type": "quantitative", "scale": {"domain": [140, 120], "range": [493, 637], "nice": false, "zero": false}, "axis": null},
        "y": {"datum": 2129, "type": "quantitative", "scale": {"domain": [1500, 2000], "nice": false, "zero": false}, "axis": null},
        "y2": {"datum": 1434}
      }
    },

    {
      "data": {"name": "foreland_psum"},
      "mark": {"type": "line", "color": "#111", "strokeWidth": 1.7, "interpolate": "catmull-rom"},
      "encoding": {
        "x": {
          "field": "v", "type": "quantitative",
          "scale": {"domain": [1, -1], "range": [666, 790], "nice": false, "zero": false},
          "axis": {
            "orient": "top", "offset": 10, "values": [1, 0, -1],
            "labelExpr": "toString(datum.value)",
            "labelFontSize": 14, "labelOverlap": false, "labelFlush": false, "labelBound": false,
            "tickSize": {"condition": {"test": "datum.value === 0", "value": 6}, "value": 3},
            "labelPadding": {"condition": {"test": "datum.value === 0", "value": 6}, "value": 9},
            "grid": true, "gridWidth": 1,
            "gridColor": {"condition": {"test": "datum.value === 1", "value": "#111"}, "value": "#808080"},
            "gridOpacity": {"condition": {"test": "datum.value === 0", "value": 0}, "value": 1},
            "title": ["Swiss Alpine", "foreland"], "titleFontSize": 23, "titleAlign": "center",
            "titleBaseline": "alphabetic", "titleLineHeight": 27, "titleAngle": 0, "titleX": 729, "titleY": -95
          }
        },
        "y": {"field": "year", "type": "quantitative", "scale": {"domain": [1500, 2000], "nice": false, "zero": false}, "axis": null},
        "order": {"field": "year", "type": "quantitative"}
      }
    },
    {
      "data": {"values": [{"v": 0, "from": 2000, "to": 1553}]},
      "mark": {"type": "rule", "color": "#111", "strokeWidth": 1.2},
      "encoding": {
        "x": {
          "field": "v", "type": "quantitative",
          "scale": {"domain": [1, -1], "range": [666, 790], "nice": false, "zero": false},
          "axis": {"orient": "bottom", "domain": false, "ticks": false, "labels": false, "grid": false,
            "title": "Psum (index)", "titleFontSize": 20, "titleAlign": "center", "titleBaseline": "alphabetic",
            "titleAngle": 0, "titleX": 727, "titleY": 34}
        },
        "y": {"field": "from", "type": "quantitative", "scale": {"domain": [1500, 2000], "nice": false, "zero": false}, "axis": null},
        "y2": {"field": "to"}
      }
    },
    {
      "data": {"name": "trends"},
      "transform": [{"filter": "datum.id === 5"}],
      "mark": {"type": "rule", "color": "#111", "strokeWidth": 1},
      "encoding": {
        "x": {"field": "v_start", "type": "quantitative", "scale": {"domain": [1, -1], "range": [666, 790], "nice": false, "zero": false}, "axis": null},
        "x2": {"field": "v_end"},
        "y": {"field": "yr_start", "type": "quantitative", "scale": {"domain": [1500, 2000], "nice": false, "zero": false}, "axis": null},
        "y2": {"field": "yr_end"}
      }
    },
    {
      "data": {"name": "trends"},
      "transform": [{"filter": "datum.id === 5"}],
      "mark": {"type": "point", "shape": "M0,0L0.5,2.2L0,1.7L-0.5,2.2Z", "filled": true, "color": "#111", "opacity": 1, "size": 40, "angle": 12.5},
      "encoding": {
        "x": {"field": "v_end", "type": "quantitative", "scale": {"domain": [1, -1], "range": [666, 790], "nice": false, "zero": false}, "axis": null},
        "y": {"field": "yr_end", "type": "quantitative", "scale": {"domain": [1500, 2000], "nice": false, "zero": false}, "axis": null}
      }
    },
    {
      "data": {"values": [{}]},
      "mark": {"type": "rule", "color": "#111", "strokeWidth": 2},
      "encoding": {
        "x": {"datum": -1.258, "type": "quantitative", "scale": {"domain": [1, -1], "range": [666, 790], "nice": false, "zero": false}, "axis": null},
        "y": {"datum": 2129, "type": "quantitative", "scale": {"domain": [1500, 2000], "nice": false, "zero": false}, "axis": null},
        "y2": {"datum": 1434}
      }
    },

    {
      "data": {"name": "alpine_pann"},
      "mark": {"type": "line", "color": "#111", "strokeWidth": 1.7, "interpolate": "catmull-rom"},
      "encoding": {
        "x": {
          "field": "v", "type": "quantitative",
          "scale": {"domain": [100, -100], "range": [823, 944], "nice": false, "zero": false},
          "axis": {
            "orient": "top", "offset": 10, "values": [100, 0, -100],
            "labelExpr": "toString(datum.value)",
            "labelFontSize": 14, "labelOverlap": false, "labelFlush": false, "labelBound": false,
            "tickSize": {"condition": {"test": "datum.value === 0", "value": 6}, "value": 3},
            "labelPadding": {"condition": {"test": "datum.value === 0", "value": 6}, "value": 9},
            "grid": true, "gridWidth": 1, "gridColor": "#666",
            "gridOpacity": {"condition": {"test": "datum.value === 0", "value": 0}, "value": 1},
            "title": "Alpine area", "titleFontSize": 23, "titleAlign": "center",
            "titleBaseline": "alphabetic", "titleAngle": 0, "titleX": 980, "titleY": -85
          }
        },
        "y": {"field": "year", "type": "quantitative", "scale": {"domain": [1500, 2000], "nice": false, "zero": false}, "axis": null},
        "order": {"field": "year", "type": "quantitative"}
      }
    },
    {
      "data": {"values": [{"v": 0}]},
      "mark": {"type": "rule", "color": "#222", "strokeWidth": 1.6},
      "encoding": {
        "x": {
          "field": "v", "type": "quantitative",
          "scale": {"domain": [100, -100], "range": [823, 944], "nice": false, "zero": false},
          "axis": {"orient": "bottom", "domain": false, "ticks": false, "labels": false, "grid": false,
            "title": "PANN (mm)", "titleFontSize": 20, "titleAlign": "center", "titleBaseline": "alphabetic",
            "titleAngle": 0, "titleX": 904, "titleY": 34}
        }
      }
    },

    {
      "data": {"name": "alpine_psum"},
      "mark": {"type": "line", "color": "#111", "strokeWidth": 1.7, "interpolate": "catmull-rom"},
      "encoding": {
        "x": {
          "field": "v", "type": "quantitative",
          "scale": {"domain": [50, -50], "range": [971, 1093], "nice": false, "zero": false},
          "axis": {
            "orient": "top", "offset": 10, "values": [50, 0, -50],
            "labelExpr": "toString(datum.value)",
            "labelFontSize": 14, "labelOverlap": false, "labelFlush": false, "labelBound": false,
            "tickSize": {"condition": {"test": "datum.value === 0", "value": 6}, "value": 3},
            "labelPadding": {"condition": {"test": "datum.value === 0", "value": 6}, "value": 9},
            "grid": true, "gridWidth": 1,
            "gridColor": {"condition": {"test": "datum.value === 50", "value": "#444"}, "value": "#808080"},
            "gridOpacity": {"condition": {"test": "datum.value === 0", "value": 0}, "value": 1},
            "title": null
          }
        },
        "y": {"field": "year", "type": "quantitative", "scale": {"domain": [1500, 2000], "nice": false, "zero": false}, "axis": null},
        "order": {"field": "year", "type": "quantitative"}
      }
    },
    {
      "data": {"values": [{"v": 0}]},
      "mark": {"type": "rule", "color": "#222", "strokeWidth": 1.6},
      "encoding": {
        "x": {
          "field": "v", "type": "quantitative",
          "scale": {"domain": [50, -50], "range": [971, 1093], "nice": false, "zero": false},
          "axis": {"orient": "bottom", "domain": false, "ticks": false, "labels": false, "grid": false,
            "title": "Psum (mm)", "titleFontSize": 20, "titleAlign": "center", "titleBaseline": "alphabetic",
            "titleAngle": 0, "titleX": 1048, "titleY": 34}
        }
      }
    },
    {
      "data": {"name": "trends"},
      "transform": [{"filter": "datum.id === 6"}],
      "mark": {"type": "rule", "color": "#111", "strokeWidth": 1},
      "encoding": {
        "x": {"field": "v_start", "type": "quantitative", "scale": {"domain": [50, -50], "range": [971, 1093], "nice": false, "zero": false}, "axis": null},
        "x2": {"field": "v_end"},
        "y": {"field": "yr_start", "type": "quantitative", "scale": {"domain": [1500, 2000], "nice": false, "zero": false}, "axis": null},
        "y2": {"field": "yr_end"}
      }
    },
    {
      "data": {"name": "trends"},
      "transform": [{"filter": "datum.id === 6"}],
      "mark": {"type": "point", "shape": "M0,0L0.5,2.2L0,1.7L-0.5,2.2Z", "filled": true, "color": "#111", "opacity": 1, "size": 40, "angle": 12.8},
      "encoding": {
        "x": {"field": "v_end", "type": "quantitative", "scale": {"domain": [50, -50], "range": [971, 1093], "nice": false, "zero": false}, "axis": null},
        "y": {"field": "yr_end", "type": "quantitative", "scale": {"domain": [1500, 2000], "nice": false, "zero": false}, "axis": null}
      }
    }
  ],
  "resolve": {
    "scale": {"x": "independent"},
    "axis": {"x": "independent", "y": "independent"}
  }
}
